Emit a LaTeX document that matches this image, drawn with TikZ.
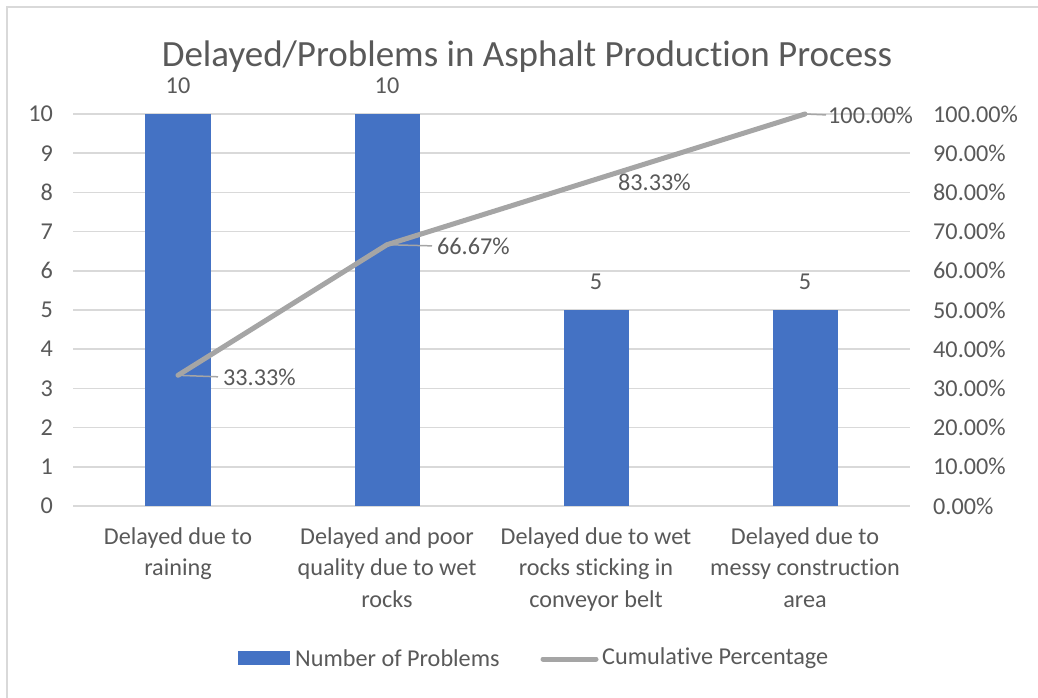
\documentclass[tikz,border=0pt]{standalone}
\usepackage{fontspec}
\setmainfont{Carlito}[Ligatures={NoCommon}]
\definecolor{txt}{HTML}{595959}
\definecolor{grid}{HTML}{D9D9D9}
\definecolor{barc}{HTML}{4472C4}
\definecolor{linec}{HTML}{A5A5A5}
\begin{document}
\begin{tikzpicture}[x=1pt,y=-1pt,
  lab/.style={text=txt,font=\fontsize{24.2}{29}\selectfont,inner sep=0pt},
  leg/.style={text=txt,font=\fontsize{24.2}{29}\selectfont,inner sep=0pt},
  cat/.style={text=txt,font=\fontsize{24.2}{31.5}\selectfont,align=center,anchor=north,inner sep=0pt},
  gridl/.style={draw=grid,line width=1.5pt},
  barbox/.style={fill=barc,draw=none},
  cum/.style={draw=linec,line width=5pt,line cap=round,line join=round},
  leader/.style={draw=linec,line width=1.5pt}]
\useasboundingbox (0,0) rectangle (1038,698);
\fill[white] (0,0) rectangle (1038,698);
% border
\draw[grid,line width=2pt] (7,698) -- (7,7) -- (1038,7);
% title
\node[text=txt,font=\fontsize{37}{42}\selectfont,inner sep=0pt] (title) at (527,57) {Delayed/Problems in Asphalt Production Process};
% gridlines and axis labels
\foreach \i/\p in {0/0.00,1/10.00,2/20.00,3/30.00,4/40.00,5/50.00,6/60.00,7/70.00,8/80.00,9/90.00,10/100.00}{
  \pgfmathsetmacro{\yy}{506-39.2*\i}
  \draw[gridl] (73,\yy) -- (910,\yy);
  \node[lab,anchor=east] (l\i) at (53,\yy) {\i};
  \node[lab,anchor=west] (r\i) at (933,\yy) {\p\%};
}
% bars
\fill[barbox] (145,506) rectangle (211,114);
\fill[barbox] (355,506) rectangle (420,114);
\fill[barbox] (564,506) rectangle (629,310);
\fill[barbox] (773,506) rectangle (838,310);
\node[lab] (b1) at (178,86) {10};
\node[lab] (b2) at (387,86) {10};
\node[lab] (b3) at (596,282) {5};
\node[lab] (b4) at (805,282) {5};
% cumulative line
\coordinate (p1) at (178,375.3);
\coordinate (p2) at (387,244.7);
\coordinate (p3) at (596,179.3);
\coordinate (p4) at (805,114);
\draw[cum] (p1) -- (p2) -- (p3) -- (p4);
\node[lab,anchor=west] (d1) at (223,377) {33.33\%};
\node[lab,anchor=west] (d2) at (437,246) {66.67\%};
\node[lab,anchor=west] (d3) at (618,182) {83.33\%};
\node[lab,anchor=west] (d4) at (828,115) {100.00\%};
\draw[leader,shorten >=5pt] (p1) -- (d1.west);
\draw[leader,shorten >=5pt] (p2) -- (d2.west);
\draw[leader,shorten >=2pt] (p4) -- (d4.west);
% category labels
\node[cat] (c1) at (178,527) {Delayed due to\\raining};
\node[cat] (c2) at (387,527) {Delayed and poor\\quality due to wet\\rocks};
\node[cat] (c3) at (596,527) {Delayed due to wet\\rocks sticking in\\conveyor belt};
\node[cat] (c4) at (805,527) {Delayed due to\\messy construction\\area};
% legend
\fill[barbox] (238,651) rectangle (290,665);
\node[leg,anchor=west] (lg1) at (295,658) {Number of Problems};
\coordinate (lgs) at (543,659);
\coordinate (lge) at (596,659);
\draw[cum] (lgs) -- (lge);
\node[leg,anchor=west] (lg2) at (602,658) {Cumulative Percentage};
\end{tikzpicture}
\end{document}
